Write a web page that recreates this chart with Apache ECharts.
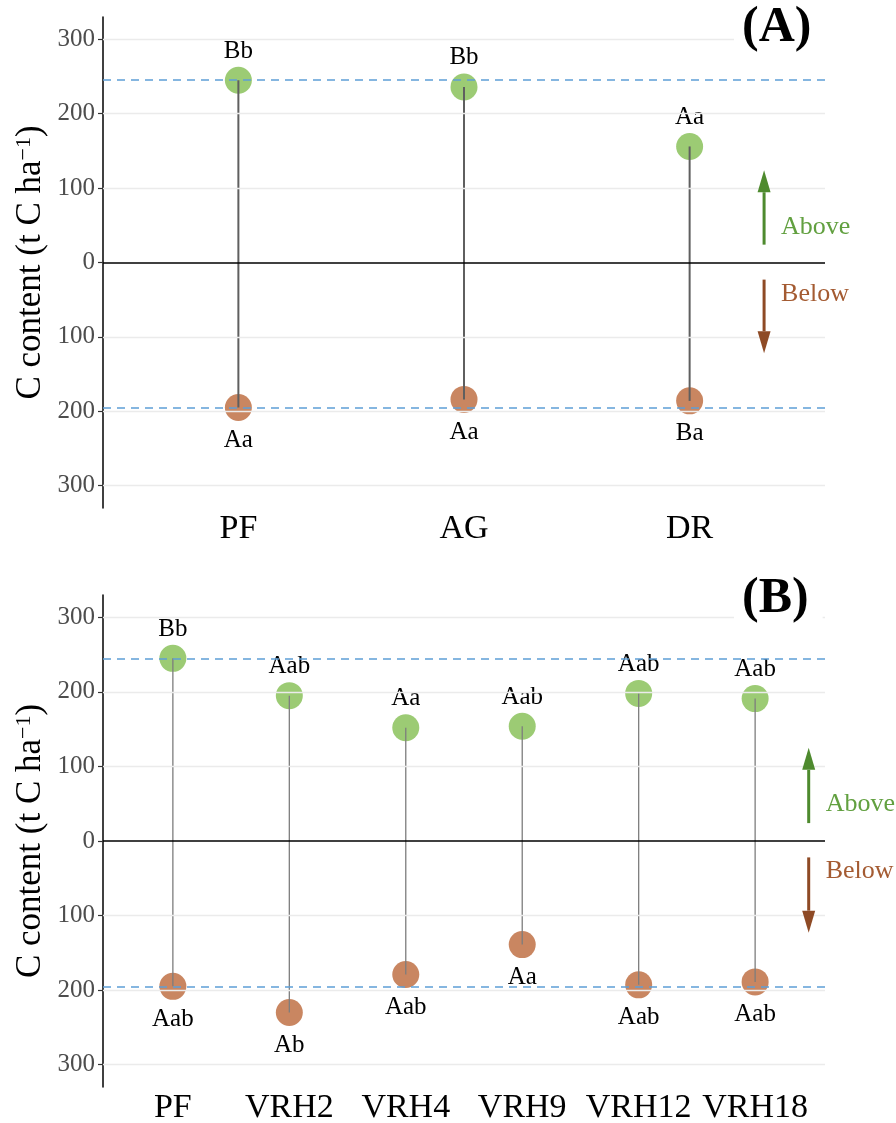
<!DOCTYPE html>
<html><head><meta charset="utf-8">
<script src="https://cdn.jsdelivr.net/npm/echarts@6/dist/echarts.min.js"></script>
<style>html,body{margin:0;padding:0;background:#fff}#c{width:896px;height:1123px}</style>
</head><body><div id="c"></div>
<script>
// ---- data ----
const catsA = ['PF', 'AG', 'DR'];
const aboveA = [245, 236, 156];
const belowA = [195, 184, 186];
const aboveLabA = ['Bb', 'Bb', 'Aa'];
const belowLabA = ['Aa', 'Aa', 'Ba'];

const catsB = ['PF', 'VRH2', 'VRH4', 'VRH9', 'VRH12', 'VRH18'];
const aboveB = [245, 195, 152, 154, 198, 191];
const belowB = [195, 230, 179, 139, 193, 189];
const aboveLabB = ['Bb', 'Aab', 'Aa', 'Aab', 'Aab', 'Aab'];
const belowLabB = ['Aab', 'Ab', 'Aab', 'Aa', 'Aab', 'Aab'];

const refValues = [245, -195];
const yTicks = [-300, -200, -100, 0, 100, 200, 300];
const yTitle = 'C content (t C ha{sup|\u22121})';

// annotation arrows (data units): [x, from, to, textY]
const arrowsA = [[3.33, 24, 124, 48], [3.33, -23, -122, -43]];
const arrowsB = [[6.46, 24, 125, 50], [6.46, -22, -123, -41]];
const arrowTexts = ['Above', 'Below'];

// ---- styles ----
const FONT = 'Liberation Serif';
const GREEN = '#9CCB74', BROWN = '#C98661';
const ARROW_COL = ['#4E8A2E', '#8E4A25'];
const ARROW_TXT = ['#62A040', '#A45B32'];
const GRIDS = [
  { left: 103, top: 17, width: 722, height: 491 },
  { left: 103, top: 595, width: 722, height: 492 }
];

function xAxis(gi, cats, fs) {
  return {
    type: 'value', gridIndex: gi, min: 0.4, max: cats.length + 0.6,
    axisLine: { show: false, onZero: false },
    axisTick: { show: false },
    splitLine: { show: false },
    axisLabel: {
      customValues: cats.map((c, i) => i + 1),
      formatter: v => cats[Math.round(v) - 1] || '',
      fontFamily: FONT, fontSize: fs, color: '#000', margin: 4
    }
  };
}
function yAxis(gi) {
  return {
    type: 'value', gridIndex: gi, min: -330, max: 330,
    axisLine: { show: true, onZero: false, lineStyle: { color: '#000', width: 1.5 } },
    axisTick: { show: true, length: 5, customValues: yTicks, lineStyle: { color: '#333', width: 1.2 } },
    splitLine: { show: false },
    axisLabel: {
      customValues: yTicks, formatter: v => String(Math.abs(v)),
      fontFamily: FONT, fontSize: 25, color: '#4d4d4d', margin: 8
    }
  };
}
function helper(gi, z, lines, style) {
  return {
    type: 'line', xAxisIndex: gi, yAxisIndex: gi, z: z, data: [[1, 0]],
    symbol: 'none', showSymbol: false, lineStyle: { opacity: 0 }, silent: true,
    markLine: {
      silent: true, symbol: ['none', 'none'], label: { show: false },
      data: lines, lineStyle: style, animation: false
    }
  };
}
function points(gi, vals, labs, sign, color, size) {
  return {
    type: 'scatter', xAxisIndex: gi, yAxisIndex: gi, z: 3,
    data: vals.map((v, i) => [i + 1, sign * v]),
    symbolSize: size,
    itemStyle: { color: color, opacity: 1 },
    label: {
      show: true, position: sign > 0 ? 'top' : 'bottom', distance: sign > 0 ? 3 : 7,
      formatter: p => labs[p.dataIndex], fontFamily: FONT, fontSize: 25, color: '#000'
    }
  };
}
function stems(gi, above, below, color, width) {
  return {
    type: 'custom', xAxisIndex: gi, yAxisIndex: gi, z: 4,
    data: above.map((v, i) => [i + 1, v, -below[i]]),
    encode: { x: 0, y: [1, 2] },
    renderItem: function (params, api) {
      const p1 = api.coord([api.value(0), api.value(1)]);
      const p2 = api.coord([api.value(0), api.value(2)]);
      return { type: 'line', shape: { x1: p1[0], y1: p1[1], x2: p2[0], y2: p2[1] },
               style: { stroke: color, lineWidth: width } };
    }
  };
}
function arrows(gi, arr) {
  return {
    type: 'custom', xAxisIndex: gi, yAxisIndex: gi, z: 5, clip: false,
    data: arr, encode: { x: 0, y: [1, 2] },
    renderItem: function (params, api) {
      const i = params.dataIndex;
      const x = api.value(0);
      const p0 = api.coord([x, api.value(1)]);
      const p1 = api.coord([x, api.value(2)]);
      const pt = api.coord([x, api.value(3)]);
      const dir = p1[1] > p0[1] ? 1 : -1;
      const head = 22, hw = 6.5;
      const base = p1[1] - dir * head;
      const c = ARROW_COL[i];
      return { type: 'group', children: [
        { type: 'line', shape: { x1: p0[0], y1: p0[1], x2: p0[0], y2: base }, style: { stroke: c, lineWidth: 3 } },
        { type: 'polygon', shape: { points: [[p1[0], p1[1]], [p1[0] - hw, base], [p1[0] + hw, base]] }, style: { fill: c } },
        { type: 'text', x: p0[0] + 17, y: pt[1],
          style: { text: arrowTexts[i], fill: ARROW_TXT[i], fontFamily: FONT, fontSize: 26, align: 'left', verticalAlign: 'middle' } }
      ] };
    }
  };
}
function titleText(g) {
  return {
    type: 'text', x: 31, y: g.top + g.height / 2, rotation: Math.PI / 2, z: 10,
    style: {
      text: yTitle, fontFamily: FONT, fontSize: 35, fill: '#000', align: 'center', verticalAlign: 'middle',
      rich: { sup: { fontFamily: FONT, fontSize: 22, verticalAlign: 'top', lineHeight: 22, fill: '#000' } }
    }
  };
}

const gridLines = yTicks.filter(v => v !== 0).map(v => ({ yAxis: v }));
const refLines = refValues.map(v => ({ yAxis: v }));
const gridStyle = { color: '#EBEBEB', width: 1.3, type: 'solid' };
const refStyle = { color: '#5E9FD6', width: 1.6, type: [8, 6] };
const zeroStyle = { color: '#000', width: 1.6, type: 'solid' };

const chart = echarts.init(document.getElementById('c'), null, { renderer: 'canvas' });
chart.setOption({
  animation: false,
  backgroundColor: '#fff',
  title: [
    { text: '(A)', left: 734, top: 1, z: 10, backgroundColor: '#fff', padding: [2, 14, 2, 8],
      textStyle: { fontFamily: FONT, fontSize: 50, fontWeight: 'bold', color: '#000' } },
    { text: '(B)', left: 734, top: 572, z: 10, backgroundColor: '#fff', padding: [2, 14, 2, 8],
      textStyle: { fontFamily: FONT, fontSize: 50, fontWeight: 'bold', color: '#000' } }
  ],
  graphic: GRIDS.map(titleText),
  grid: GRIDS.map(g => Object.assign({ containLabel: false, outerBoundsMode: 'none' }, g)),
  xAxis: [xAxis(0, catsA, 34), xAxis(1, catsB, 34)],
  yAxis: [yAxis(0), yAxis(1)],
  series: [
    helper(0, 1, gridLines, gridStyle),
    helper(1, 1, gridLines, gridStyle),
    points(0, aboveA, aboveLabA, 1, GREEN, 27),
    points(0, belowA, belowLabA, -1, BROWN, 27),
    points(1, aboveB, aboveLabB, 1, GREEN, 27),
    points(1, belowB, belowLabB, -1, BROWN, 27),
    stems(0, aboveA, belowA, '#5f5f5f', 2),
    stems(1, aboveB, belowB, '#7d7d7d', 1.3),
    helper(0, 5, refLines, refStyle),
    helper(1, 5, refLines, refStyle),
    helper(0, 5, [{ yAxis: 0 }], zeroStyle),
    helper(1, 5, [{ yAxis: 0 }], zeroStyle),
    arrows(0, arrowsA),
    arrows(1, arrowsB)
  ]
});
</script></body></html>
